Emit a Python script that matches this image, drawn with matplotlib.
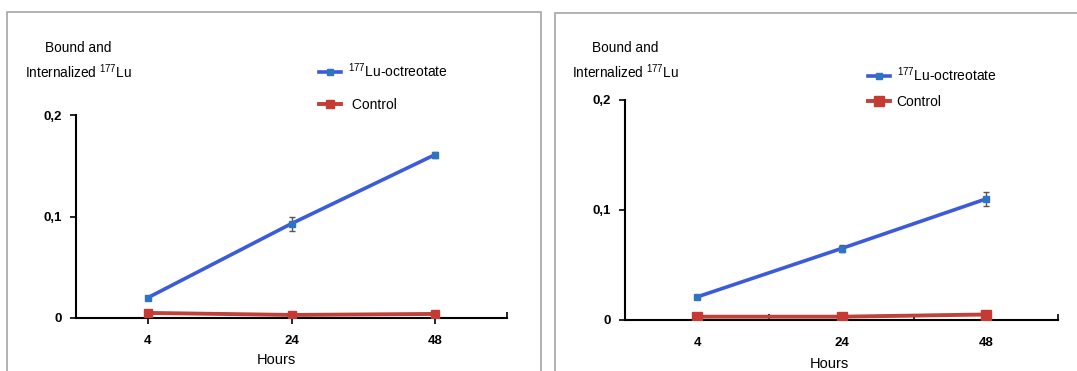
import numpy as np
import matplotlib
matplotlib.use('Agg')
import matplotlib.pyplot as plt
from matplotlib.patches import Rectangle
from matplotlib.lines import Line2D

plt.rcParams['font.family'] = ['Liberation Sans', 'DejaVu Sans']
plt.rcParams['mathtext.fontset'] = 'custom'
plt.rcParams['mathtext.rm'] = 'Liberation Sans'
plt.rcParams['mathtext.default'] = 'regular'

hours = ['4', '24', '48']

# left panel
lu_left = [0.020, 0.093, 0.161]
lu_left_err = [0.002, 0.007, 0.003]
ctrl_left = [0.005, 0.003, 0.004]
ctrl_left_err = [0.001, 0.001, 0.001]

# right panel
lu_right = [0.021, 0.065, 0.110]
lu_right_err = [0.002, 0.003, 0.006]
ctrl_right = [0.003, 0.003, 0.005]
ctrl_right_err = [0.001, 0.001, 0.001]

blue_line = '#3B5BDB'
blue_mark = '#2F74C4'
red_line = '#C0403A'
red_mark = '#C63A34'
lu_label = r'$^{177}$Lu-octreotate'

fig = plt.figure(figsize=(10.77, 3.71), dpi=100)

# panel frames
fig.patches.append(Rectangle((7/1077, -0.1), (541-7)/1077, 1.1 - 12/371,
                             transform=fig.transFigure, fill=False, ec='#A6A6A6', lw=1.2))
fig.patches.append(Rectangle((555/1077, -0.1), (1080-555)/1077, 1.1 - 13/371,
                             transform=fig.transFigure, fill=False, ec='#A6A6A6', lw=1.2))

ax1 = fig.add_axes([76/1077, 1-318/371, 431/1077, (318-115)/371])
ax2 = fig.add_axes([625/1077, 1-320/371, 433/1077, (320-100)/371])

panels = [(ax1, lu_left, lu_left_err, ctrl_left, ctrl_left_err, 'points', 6),
          (ax2, lu_right, lu_right_err, ctrl_right, ctrl_right_err, 'bounds', 7)]

for ax, lu, lue, ct, cte, tickmode, red_ms in panels:
    x = np.arange(len(hours)) + 0.5
    ax.errorbar(x, lu, yerr=lue, color=blue_line, lw=2.6, marker='s', ms=5,
                mfc=blue_mark, mec=blue_mark, ecolor='#555555', elinewidth=1, capsize=2,
                zorder=3)
    ax.errorbar(x, ct, yerr=cte, color=red_line, lw=2.8, marker='s', ms=red_ms,
                mfc=red_mark, mec=red_mark, ecolor='#555555', elinewidth=1, capsize=2,
                zorder=3)
    ax.set_xlim(0, 3)
    ax.set_ylim(0, 0.2)
    for s in ['top', 'right']:
        ax.spines[s].set_visible(False)
    for s in ['left', 'bottom']:
        ax.spines[s].set_linewidth(1.5)
        ax.spines[s].set_color('black')
    ax.set_yticks([0, 0.1, 0.2])
    ax.set_yticklabels(['0', '0,1', '0,2'], fontsize=9.5, fontweight='bold')
    ax.set_xticks(x)
    ax.set_xticklabels(hours, fontsize=9.5, fontweight='bold')
    if tickmode == 'points':
        ax.tick_params(axis='x', length=4, width=1.2, pad=8)
        ax.set_xticks([3], minor=True)
    else:
        ax.tick_params(axis='x', length=0, pad=12)
        ax.set_xticks([1, 2, 3], minor=True)
    ax.tick_params(axis='x', which='minor', length=4, width=1.2, direction='in')
    ax.tick_params(axis='y', length=4, width=1.2, pad=6)

for cx in (78, 625):
    fig.text(cx/1077, 1-48/371, 'Bound and', ha='center', va='center', fontsize=9.8)
    fig.text(cx/1077, 1-72/371, r'Internalized $^{177}$Lu', ha='center', va='center', fontsize=9.8)

fig.text(276/1077, 1-360/371, 'Hours', ha='center', va='center', fontsize=10.5)
fig.text(829/1077, 1-364/371, 'Hours', ha='center', va='center', fontsize=10.5)

h_left = [Line2D([], [], color=blue_line, lw=2.6, marker='s', ms=5, mfc=blue_mark, mec=blue_mark),
          Line2D([], [], color=red_line, lw=2.8, marker='s', ms=6, mfc=red_mark, mec=red_mark)]
h_right = [Line2D([], [], color=blue_line, lw=2.6, marker='s', ms=5, mfc=blue_mark, mec=blue_mark),
           Line2D([], [], color=red_line, lw=2.8, marker='s', ms=7, mfc=red_mark, mec=red_mark)]

ax1.legend(h_left, [lu_label, ' Control'], loc='upper left', bbox_to_anchor=(230/431, 1 + 66/203),
           frameon=False, fontsize=10, handlelength=1.6, labelspacing=1.3, handletextpad=0.5)
ax2.legend(h_right, [lu_label, 'Control'], loc='upper left', bbox_to_anchor=(230/433, 1 + 47/220),
           frameon=False, fontsize=10, handlelength=1.6, labelspacing=0.8, handletextpad=0.5)

fig.savefig('out.png', dpi=100)
